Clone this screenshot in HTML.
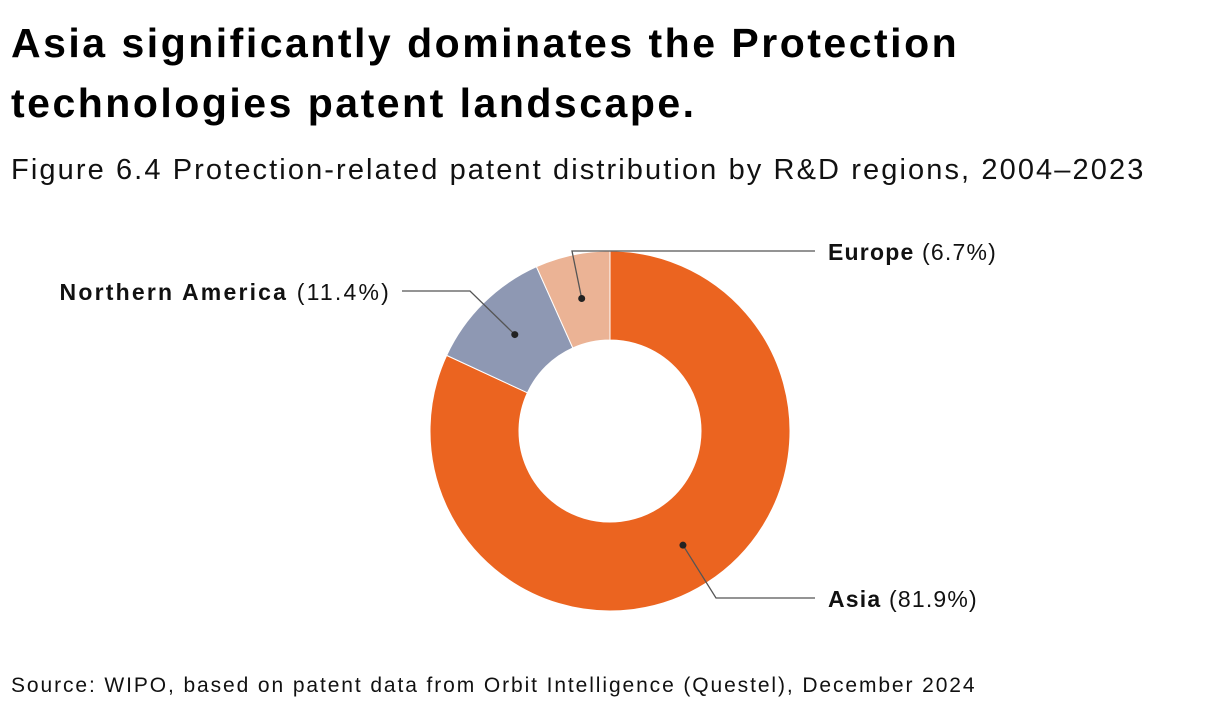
<!DOCTYPE html>
<html><head><meta charset="utf-8"><style>
body{margin:0;width:1220px;height:714px;background:#fff;font-family:"Liberation Sans",sans-serif;overflow:hidden;position:relative}
.t{position:absolute;left:11px;top:13px;font-size:41px;letter-spacing:2.5px;font-weight:bold;line-height:60px;color:#000;margin:0;white-space:nowrap}
.s{position:absolute;left:11px;top:154px;font-size:29px;letter-spacing:2.1px;color:#111;white-space:nowrap}
.src{position:absolute;left:11px;top:674px;font-size:21px;letter-spacing:1.9px;color:#111;white-space:nowrap}
</style></head><body>
<h1 class="t">Asia significantly dominates the Protection<br>technologies patent landscape.</h1>
<div class="s">Figure 6.4 Protection-related patent distribution by R&amp;D regions, 2004–2023</div>
<svg id="c" width="1220" height="714" style="position:absolute;left:0;top:0"></svg>
<div class="src">Source: WIPO, based on patent data from Orbit Intelligence (Questel), December 2024</div>
<script>
const categories=["Asia","Northern America","Europe"];
const values=[81.9,11.4,6.7];
const colors=["#EB6420","#8E98B3","#EBB395"];
const NS="http://www.w3.org/2000/svg";
const svg=document.getElementById('c');
const cx=610,cy=431,R=180,r=91;
const total=values.reduce((a,b)=>a+b,0);
function pt(a,rad){return [cx+rad*Math.sin(a),cy-rad*Math.cos(a)];}
let a0=0;
const mids=[];
values.forEach((v,i)=>{
  const a1=a0+v/total*2*Math.PI;
  const large=(a1-a0)>Math.PI?1:0;
  const p1=pt(a0,R),p2=pt(a1,R),p3=pt(a1,r),p4=pt(a0,r);
  const p=document.createElementNS(NS,'path');
  p.setAttribute('d',`M${p1}A${R},${R} 0 ${large} 1 ${p2}L${p3}A${r},${r} 0 ${large} 0 ${p4}Z`);
  p.setAttribute('fill',colors[i]);p.setAttribute('stroke','#fff');p.setAttribute('stroke-width','1');
  
  
  svg.appendChild(p);
  mids.push((a0+a1)/2);
  a0=a1;
});
const lay=[[716,598,815,828,'start',1.2],[470,291,402,391,'end',2.2],[572,251,815,828,'start',1.2]];
values.forEach((v,i)=>{
  const d=pt(mids[i],(R+r)/2);const L=lay[i];
  const ln=document.createElementNS(NS,'polyline');
  ln.setAttribute('points',`${d} ${L[0]},${L[1]} ${L[2]},${L[1]}`);
  ln.setAttribute('fill','none');ln.setAttribute('stroke','#555');ln.setAttribute('stroke-width','1.3');
  
  
  svg.appendChild(ln);
  const c=document.createElementNS(NS,'circle');
  c.setAttribute('cx',d[0]);c.setAttribute('cy',d[1]);c.setAttribute('r',3.5);c.setAttribute('fill','#222');
  
  
  svg.appendChild(c);
  const t=document.createElementNS(NS,'text');
  t.setAttribute('x',L[3]);t.setAttribute('y',L[1]+9);t.setAttribute('text-anchor',L[4]);
  t.setAttribute('font-size','23');t.setAttribute('letter-spacing',L[5]);t.setAttribute('fill','#111');t.setAttribute('font-family','Liberation Sans, sans-serif');
  
  
  t.innerHTML=`<tspan font-weight="bold">${categories[i]}</tspan> (${v.toFixed(1)}%)`;
  svg.appendChild(t);
});
</script>
</body></html>
